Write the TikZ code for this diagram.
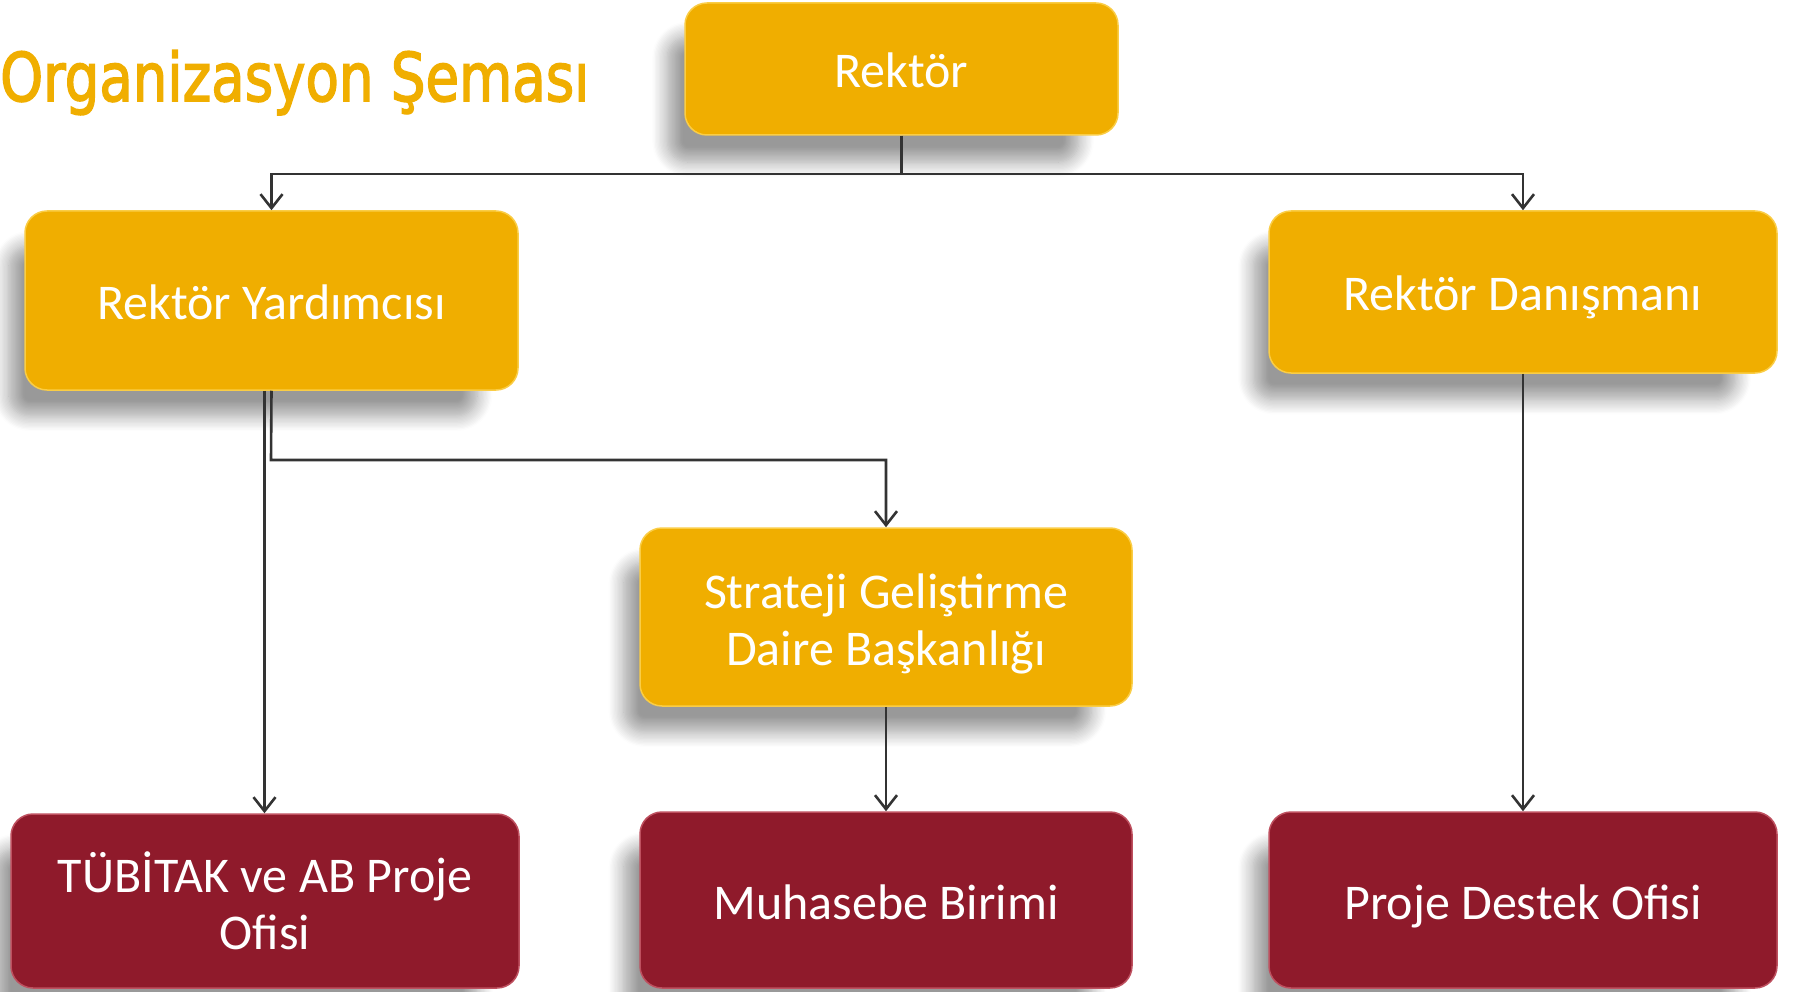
\documentclass[tikz,border=0pt]{standalone}
\usepackage{fontspec}
\usepackage{graphicx}
\setmainfont{Carlito}
\newfontfamily\titlefont[FakeBold=2.5]{DejaVu Sans}
\usetikzlibrary{arrows.meta,shadows.blur}
\definecolor{ybox}{RGB}{240,174,0}
\definecolor{yedge}{RGB}{250,205,70}
\definecolor{rbox}{RGB}{143,26,43}
\definecolor{redge}{RGB}{190,80,95}
\definecolor{conn}{RGB}{51,51,51}
\tikzset{
  orgbox/.style={rounded corners=22pt, inner sep=0pt, align=center, text=white,
    font=\fontsize{50}{57}\selectfont, line width=1.5pt,
    blur shadow={shadow xshift=-30pt, shadow yshift=-32pt, shadow scale=0.95,
      shadow blur radius=16pt, shadow opacity=40, shadow blur steps=12}},
  oneline/.style={text height=40pt, text depth=2pt},
  yorg/.style={orgbox, fill=ybox, draw=yedge},
  rorg/.style={orgbox, fill=rbox, draw=redge},
  link/.style={draw=conn, line width=2.6pt,
    -{Straight Barb[length=14pt,width=22pt,line width=2.6pt]}}
}
\begin{document}
\begin{tikzpicture}[x=1pt,y=-1pt]
\useasboundingbox (0,0) rectangle (1797,992);
\node[anchor=base west, inner sep=0pt, text=ybox,
  font=\titlefont\fontsize{67}{70}\selectfont] (title) at (0,101)
  {\scalebox{0.815}[1]{Organizasyon Şeması}};
\node[yorg, oneline, minimum width=433pt, minimum height=132pt] (rek) at (901.5,69) {Rektör};
\node[yorg, oneline, minimum width=493pt, minimum height=179pt] (ry) at (271.5,300.5) {Rektör Yardımcısı};
\node[yorg, oneline, minimum width=508pt, minimum height=162pt] (rd) at (1523,292) {Rektör Danışmanı};
\node[yorg, minimum width=492pt, minimum height=178pt] (sg) at (886,617) {\rule{0pt}{49pt}Strateji Geliştirme\\Daire Başkanlığı};
\node[rorg, minimum width=508pt, minimum height=174pt] (tb) at (265,901) {TÜBİTAK ve AB Proje\\Ofisi};
\node[rorg, oneline, minimum width=492pt, minimum height=176pt] (mb) at (886,900) {Muhasebe Birimi};
\node[rorg, oneline, minimum width=508pt, minimum height=176pt] (pd) at (1523,900) {Proje Destek Ofisi};
% connectors
\coordinate (j1) at (901.5,174);
\coordinate (j2) at (271,460);
\coordinate (ry2) at ([xshift=-7pt]ry.south);
\draw[link] (rek.south) -- (j1) -| (ry.north);
\draw[link] (j1) -| (rd.north);
\draw[link] (ry.south) -- (j2) -| (sg.north);
\draw[link] (ry2) -- (ry2 |- tb.north);
\draw[link] (sg.south) -- (mb.north);
\draw[link] (rd.south) -- (pd.north);
\end{tikzpicture}
\end{document}
